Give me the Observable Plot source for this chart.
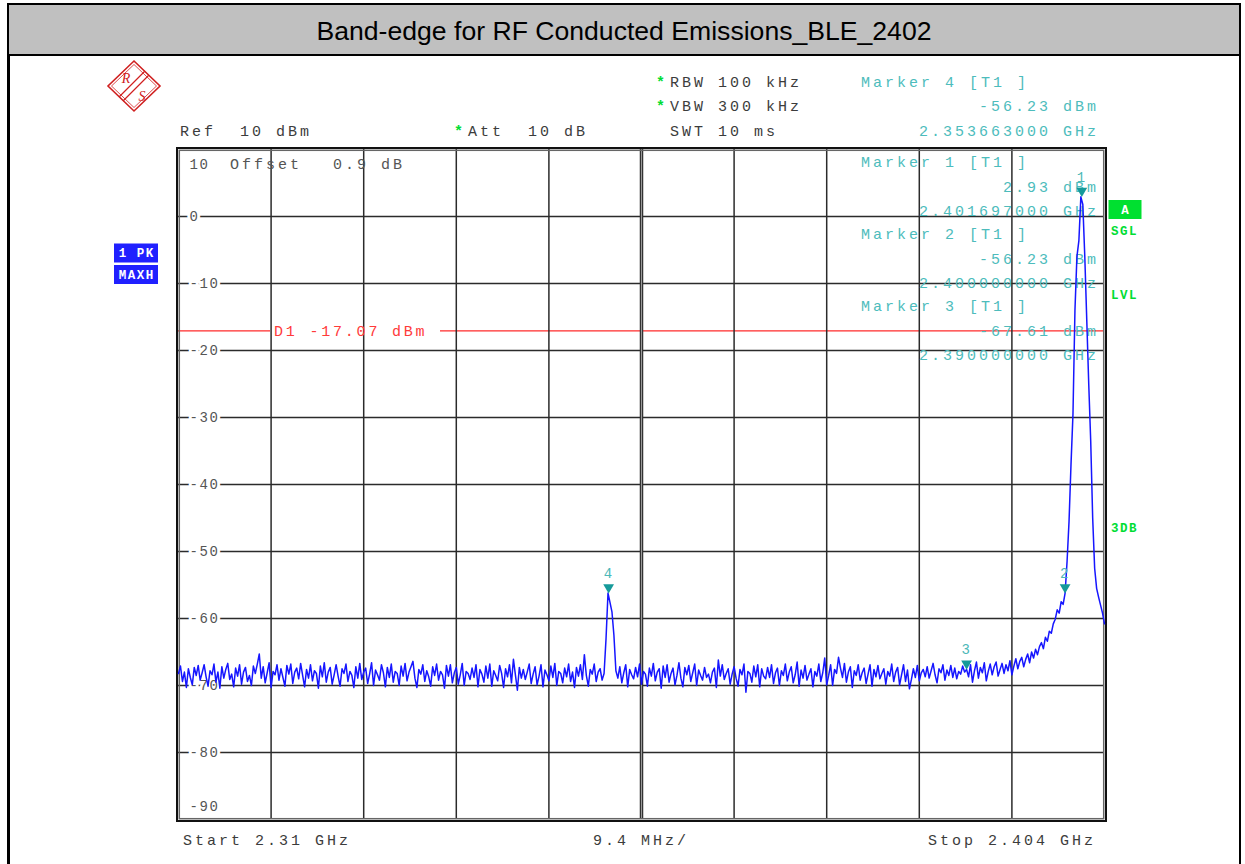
<!DOCTYPE html>
<html><head><meta charset="utf-8">
<script src="https://cdn.jsdelivr.net/npm/d3@7"></script>
<script src="https://cdn.jsdelivr.net/npm/@observablehq/plot@0.6"></script>
<style>
html,body{margin:0;padding:0;background:#fff;width:1245px;height:864px;overflow:hidden;}
#title{position:absolute;left:7px;top:3px;width:1234px;height:53px;box-sizing:border-box;border:2.5px solid #000;background:#c0c0c0;font-family:"Liberation Sans",Arial,sans-serif;font-size:26.6px;color:#000;display:flex;align-items:center;justify-content:center;padding-top:3px;}
#chart{position:absolute;left:0;top:56px;width:1245px;height:808px;}
.vline{position:absolute;top:56px;height:808px;width:2.5px;background:#000;}
</style></head>
<body>
<div id="title">Band-edge for RF Conducted Emissions_BLE_2402</div>
<div id="chart"></div>
<div class="vline" style="left:7px"></div>
<div class="vline" style="left:1238.5px"></div>
<script>
// ---------- data ----------
const sweepStartMHz = 2310;
const sweepStopMHz = 2404;
const sweepStepMHz = 0.2;
const traceDbm = [
 -68.2,-67.1,-69.4,-68.0,-70.3,-67.5,-68.8,-69.9,-67.3,-68.5,-67.0,-69.2,-68.1,-66.9,-68.7,-70.1,-67.8,-68.4,-66.8,-69.5,
 -68.0,-70.4,-67.2,-68.9,-67.6,-66.7,-69.1,-68.3,-70.2,-67.4,-68.6,-66.9,-69.8,-68.0,-67.3,-69.4,-68.5,-70.0,-67.1,-68.2,
 -66.8,-65.3,-68.9,-67.2,-69.6,-68.1,-66.6,-70.3,-67.9,-68.4,-66.9,-69.2,-67.5,-68.8,-70.1,-67.0,-68.3,-66.8,-69.7,-68.0,
 -67.4,-69.0,-66.7,-68.5,-70.2,-67.6,-68.9,-66.9,-69.3,-67.8,-68.2,-70.4,-67.1,-68.7,-66.6,-69.5,-68.0,-67.3,-69.8,-68.4,
 -66.9,-68.6,-70.1,-67.5,-68.2,-66.8,-69.4,-67.9,-68.5,-70.3,-67.2,-68.9,-66.7,-69.1,-68.0,-67.4,-69.7,-68.3,-66.6,-70.0,
 -67.7,-68.4,-69.2,-66.9,-68.1,-70.2,-67.3,-68.8,-66.8,-69.5,-67.9,-68.2,-70.0,-67.1,-68.6,-66.7,-69.3,-68.0,-67.2,-66.4,
 -68.9,-70.3,-67.6,-68.3,-66.9,-69.4,-67.8,-68.7,-70.1,-67.2,-68.5,-66.8,-69.2,-67.9,-68.4,-70.4,-67.0,-68.6,-66.9,-69.6,
 -68.1,-67.3,-69.8,-68.4,-66.7,-70.0,-67.9,-68.2,-69.1,-67.4,-68.8,-66.9,-70.2,-67.6,-68.3,-69.5,-67.1,-68.9,-66.8,-70.1,
 -67.8,-68.5,-69.3,-67.0,-68.2,-70.3,-67.5,-68.7,-66.9,-69.6,-66.1,-68.4,-70.7,-67.3,-68.9,-67.6,-69.1,-68.0,-66.8,-69.7,
 -68.3,-67.2,-69.9,-68.6,-66.9,-70.2,-67.7,-68.4,-69.3,-67.1,-68.8,-66.7,-70.0,-67.9,-68.2,-69.6,-67.4,-68.7,-66.8,-69.4,
 -68.0,-70.3,-67.3,-68.6,-66.9,-69.1,-65.4,-68.5,-70.1,-67.6,-68.3,-66.8,-69.4,-68.0,-67.5,-69.2,-68.2,-63.0,-56.2,-57.6,
 -59.0,-62.5,-67.8,-68.9,-67.2,-69.6,-68.1,-66.9,-70.2,-67.6,-68.4,-69.0,-67.3,-68.7,-66.8,-69.8,-67.9,-68.3,-70.1,-67.4,
 -68.6,-66.7,-69.3,-68.0,-67.5,-70.4,-67.1,-68.8,-66.9,-69.5,-68.2,-67.4,-69.9,-68.5,-66.6,-68.9,-70.2,-67.3,-68.4,-67.0,
 -69.4,-68.1,-66.8,-70.0,-67.7,-68.5,-69.2,-67.3,-68.8,-68.3,-69.6,-68.0,-67.4,-70.3,-66.2,-68.6,-66.9,-69.1,-68.2,-67.5,
 -69.8,-68.3,-67.2,-68.9,-70.1,-67.6,-68.4,-66.8,-71.0,-67.9,-68.2,-69.5,-67.1,-68.7,-66.9,-70.2,-67.5,-68.6,-69.0,-67.3,
 -68.8,-66.9,-69.7,-68.1,-67.4,-70.0,-67.8,-68.5,-66.8,-69.3,-68.0,-67.2,-69.6,-68.4,-66.5,-70.1,-67.7,-68.9,-67.0,-69.2,
 -68.3,-67.5,-70.2,-67.9,-68.6,-66.8,-69.4,-68.1,-65.9,-69.9,-68.5,-66.9,-70.0,-67.6,-68.2,-65.8,-67.4,-68.8,-66.7,-69.5,
 -68.0,-67.2,-70.3,-67.8,-68.5,-66.9,-69.2,-68.1,-67.4,-69.7,-68.3,-66.9,-70.1,-67.6,-68.7,-67.0,-69.0,-68.2,-67.5,-69.8,
 -67.9,-68.6,-66.8,-69.4,-68.0,-67.3,-69.9,-68.4,-66.9,-69.4,-67.7,-70.5,-69.1,-67.5,-68.8,-67.0,-69.3,-68.1,-67.6,-68.7,
 -67.2,-68.9,-67.8,-66.7,-68.4,-69.6,-67.5,-68.1,-66.9,-69.2,-67.7,-68.5,-67.0,-68.8,-67.4,-69.0,-67.9,-68.3,-67.1,-68.0,
 -67.6,-68.7,-66.9,-69.5,-67.8,-66.5,-68.9,-67.3,-68.1,-66.6,-69.3,-67.9,-66.8,-68.4,-67.2,-66.5,-68.6,-67.6,-66.7,-68.2,
 -66.9,-67.8,-66.3,-68.4,-67.1,-66.0,-67.5,-66.4,-65.8,-67.2,-66.1,-65.3,-66.6,-65.0,-65.9,-64.6,-65.4,-64.2,-63.6,-64.5,
 -62.8,-63.4,-61.9,-62.2,-60.8,
 -60.1,-58.7,-59.2,-57.5,-57.9,-56.23,-51.5,-45.5,-37.0,-29.5,-14.0,-6.0,-3.6,2.93,1.8,-6.0,-15.5,-25.0,-33.5,-45.0,
 -52.5,-55.5,-56.8,-58.0,-59.2,-60.8
];
const yTickDbm = [10, 0, -10, -20, -30, -40, -50, -60, -70, -80, -90];
const gridFreqMHz = [2319.4, 2328.8, 2338.2, 2347.6, 2366.4, 2375.8, 2385.2, 2394.6];
const centerFreqMHz = 2357.0;
const markerIds = [1, 2, 3, 4];
const markerFreqMHz = [2401.697, 2400.000, 2390.000, 2353.663];
const markerDbm = [2.93, -56.23, -67.61, -56.23];
const displayLineDbm = -17.07;
const refLevelDbm = 10;
const attDb = 10;
const offsetDb = 0.9;
const rbwKHz = 100, vbwKHz = 300, sweepTimeMs = 10;
const spanPerDivMHz = 9.4;

// ---------- build ----------
const trace = traceDbm.map((v, i) => ({f: sweepStartMHz + i * sweepStepMHz, db: v}));
const markers = markerIds.map((id, i) => ({id, f: markerFreqMHz[i], db: markerDbm[i]}));
const MONO = "'Liberation Mono','DejaVu Sans Mono',monospace";
const midTicks = yTickDbm.filter(v => v < 10 && v > -90);
const d1Label = `D1 ${displayLineDbm.toFixed(2)} dBm`;
// gap in the display line where its label sits (layout, in px of the 926px-wide frame)
const mhzPerPx = (sweepStopMHz - sweepStartMHz) / 926;
const d1Segments = [
  {y: displayLineDbm, x1: sweepStartMHz, x2: sweepStartMHz + 92 * mhzPerPx},
  {y: displayLineDbm, x1: sweepStartMHz + 262 * mhzPerPx, x2: sweepStopMHz}
];

const chart = Plot.plot({
  width: 1245, height: 808,
  marginLeft: 178, marginRight: 141, marginTop: 93, marginBottom: 45,
  x: {domain: [sweepStartMHz, sweepStopMHz], axis: null},
  y: {domain: [-90, 10], axis: null},
  style: {background: "transparent", overflow: "visible"},
  marks: [
    Plot.ruleY(d1Segments, {y: "y", x1: "x1", x2: "x2", stroke: "#ff2a2a", strokeWidth: 1.2}),
    Plot.ruleY(midTicks, {stroke: "#2b2b2b", strokeWidth: 1.5}),
    Plot.ruleX(gridFreqMHz, {stroke: "#2b2b2b", strokeWidth: 1.5}),
    Plot.ruleX([centerFreqMHz], {stroke: "#333", strokeWidth: 3.5}),
    Plot.ruleX([centerFreqMHz], {stroke: "#999", strokeWidth: 1}),
    Plot.frame({stroke: "#111", strokeWidth: 2, inset: -1.5}),
    Plot.frame({stroke: "#666", strokeWidth: 1.5, inset: 0.8}),
    Plot.text(midTicks, {x: () => sweepStartMHz, y: d => d, text: d => String(d), dx: 11, textAnchor: "start",
      fontFamily: MONO, fontSize: 14, fill: "#555", stroke: "white", strokeWidth: 6}),
    Plot.text([10], {x: () => sweepStartMHz, y: d => d, text: d => String(d), dx: 11, dy: 15, textAnchor: "start",
      fontFamily: MONO, fontSize: 14, fill: "#555"}),
    Plot.text([-90], {x: () => sweepStartMHz, y: d => d, text: d => String(d), dx: 11, dy: -13, textAnchor: "start",
      fontFamily: MONO, fontSize: 14, fill: "#555"}),
    Plot.line(trace, {x: "f", y: "db", stroke: "#1616ff", strokeWidth: 1.5}),
    Plot.dot(markers, {x: "f", y: "db", symbol: "triangle", rotate: 180, r: 4, fill: "#169a9a", stroke: null, dy: -6}),
    Plot.text(markers, {x: "f", y: "db", text: d => String(d.id), dy: -19.5, fontFamily: MONO, fontSize: 14, fill: "#4cb8b8"})
  ]
});
document.getElementById("chart").appendChild(chart);
// tick-label letter spacing (screen font is wide)
d3.select(chart).selectAll('g[aria-label="text"] text').attr("letter-spacing", 1.6);

// ---------- annotations (instrument screen texts) ----------
const yS = chart.scale("y");
const lineG = chart.querySelector('g[aria-label="line"]');
const g = d3.select(chart).insert("g", () => lineG).attr("class", "annot").attr("letter-spacing", 3);
const OFF = 56; // svg top in page coords
function txt(x, py, s, o = {}) {
  const t = g.append("text").attr("x", x).attr("y", py - OFF).attr("dy", "0.35em")
    .attr("font-family", o.family || MONO).attr("font-size", o.size || 15)
    .attr("fill", o.fill || "#3c3c3c").attr("text-anchor", o.anchor || "start").text(s);
  if (o.weight) t.attr("font-weight", o.weight);
  if (o.ls != null) t.attr("letter-spacing", o.ls);
  return t;
}
const GREEN = "#00dd33", TEAL = "#4dbcbc";
const R = 1099; // right alignment (accounts trailing letter spacing)

txt(656, 81.5, "*", {fill: GREEN, weight: "bold"});
txt(670, 81.5, `RBW ${rbwKHz} kHz`);
txt(656, 106, "*", {fill: GREEN, weight: "bold"});
txt(670, 106, `VBW ${vbwKHz} kHz`);
txt(180, 130.5, `Ref  ${refLevelDbm} dBm`);
txt(454, 130.5, "*", {fill: GREEN, weight: "bold"});
txt(468, 130.5, `Att  ${attDb} dB`);
txt(670, 130.5, `SWT ${sweepTimeMs} ms`);
txt(230, 164, "Offset", {fill: "#555"});
txt(333, 164, `${offsetDb} dB`, {fill: "#555"});
// display line label
g.append("text").attr("x", 274).attr("y", yS.apply(displayLineDbm)).attr("dy", "0.38em")
  .attr("text-anchor", "start")
  .attr("font-family", MONO).attr("font-size", 15).attr("fill", "#ff3a3a").attr("letter-spacing", 2.8).text(d1Label);

function markerBlock(m, py) {
  txt(861, py, `Marker ${m.id} [T1 ]`, {fill: TEAL});
  txt(R, py + 24.5, `${m.db.toFixed(2)} dBm`, {fill: TEAL, anchor: "end"});
  txt(R, py + 49, `${(m.f / 1000).toFixed(9)} GHz`, {fill: TEAL, anchor: "end"});
}
const byId = id => markers.find(m => m.id === id);
markerBlock(byId(4), 81.5);
markerBlock(byId(1), 162);
markerBlock(byId(2), 234);
markerBlock(byId(3), 306);

txt(183, 840, `Start ${(sweepStartMHz / 1000).toFixed(2)} GHz`);
txt(593, 840, `${spanPerDivMHz} MHz/`);
txt(R - 3, 840, `Stop ${(sweepStopMHz / 1000).toFixed(3)} GHz`, {anchor: "end"});

// status boxes
function box(x, py, w, h, fill, label, tfill) {
  g.append("rect").attr("x", x).attr("y", py - OFF).attr("width", w).attr("height", h).attr("fill", fill);
  txt(x + w / 2 + 0.8, py + h / 2, label, {fill: tfill, weight: "bold", anchor: "middle", size: 12.5, ls: 1.5});
}
box(114, 243.5, 44, 19, "#2020ff", "1 PK", "#fff");
box(114, 265, 44, 19, "#2020ff", "MAXH", "#fff");
box(1108.5, 200, 33, 19, "#00e030", "A", "#fff");
txt(1111, 231, "SGL", {fill: GREEN, weight: "bold", size: 12.5, ls: 1.5});
txt(1111, 294.5, "LVL", {fill: GREEN, weight: "bold", size: 12.5, ls: 1.5});
txt(1111, 528, "3DB", {fill: GREEN, weight: "bold", size: 12.5, ls: 1.5});

// R&S logo
const logo = g.append("g").attr("transform", `translate(134,${86 - OFF})`);
logo.append("path").attr("d", "M0,-25L26,0L0,25L-26,0Z").attr("fill", "none").attr("stroke", "#d02020").attr("stroke-width", 1.6);
logo.append("path").attr("d", "M0,-21.5L22.5,0L0,21.5L-22.5,0Z").attr("fill", "none").attr("stroke", "#d02020").attr("stroke-width", 0.8);
logo.append("path").attr("d", "M11,-15L-15,11M15,-11L-11,15").attr("stroke", "#d02020").attr("stroke-width", 1.2);
logo.append("text").attr("x", -8).attr("y", -3).attr("font-family", "'Liberation Serif',serif").attr("font-size", 14)
  .attr("font-style", "italic").attr("fill", "#d02020").attr("text-anchor", "middle").attr("letter-spacing", 0).text("R");
logo.append("text").attr("x", 8).attr("y", 15).attr("font-family", "'Liberation Serif',serif").attr("font-size", 14)
  .attr("font-style", "italic").attr("fill", "#d02020").attr("text-anchor", "middle").attr("letter-spacing", 0).text("S");
</script>
</body></html>
